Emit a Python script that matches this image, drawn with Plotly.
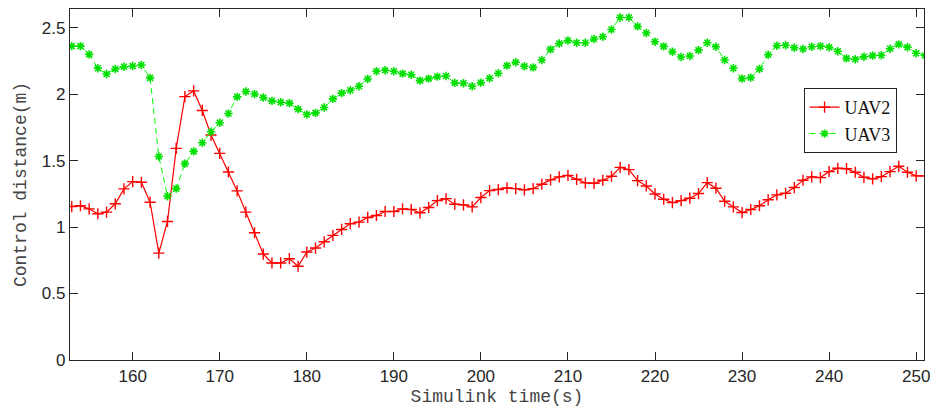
import plotly.graph_objects as go

# Simulation time stamps (s)
time_s = list(range(153, 252))

# Control distance of UAV2 (m)
uav2 = [
    1.154, 1.160, 1.137, 1.100, 1.112, 1.175, 1.287, 1.342, 1.337, 1.187, 0.804, 1.042, 1.592, 1.981, 2.024, 1.877,
    1.692, 1.554, 1.414, 1.272, 1.112, 0.957, 0.797, 0.730, 0.730, 0.762, 0.705, 0.812, 0.842, 0.889, 0.937, 0.982, 1.025,
    1.037, 1.072, 1.087, 1.117, 1.117, 1.137, 1.132, 1.107, 1.147, 1.199, 1.214, 1.172, 1.167, 1.152, 1.222, 1.274,
    1.282, 1.294, 1.289, 1.280, 1.289, 1.322, 1.355, 1.377, 1.389, 1.359, 1.332, 1.329, 1.352, 1.382, 1.449, 1.432, 1.349,
    1.309, 1.249, 1.209, 1.184, 1.199, 1.217, 1.252, 1.334, 1.292, 1.194, 1.152, 1.109, 1.132, 1.160, 1.205, 1.242,
    1.254, 1.297, 1.352, 1.377, 1.372, 1.417, 1.442, 1.439, 1.412, 1.374, 1.362, 1.379, 1.417, 1.457, 1.412, 1.385, 1.385,
]

# Control distance of UAV3 (m)
uav3 = [
    2.361, 2.361, 2.299, 2.194, 2.151, 2.189, 2.206, 2.211, 2.219, 2.122, 1.531, 1.232, 1.289, 1.477, 1.569, 1.634,
    1.717, 1.784, 1.854, 1.979, 2.019, 2.001, 1.974, 1.949, 1.939, 1.932, 1.887, 1.846, 1.859, 1.899, 1.964, 2.007, 2.029,
    2.059, 2.114, 2.172, 2.179, 2.172, 2.154, 2.146, 2.101, 2.116, 2.131, 2.136, 2.084, 2.082, 2.059, 2.086, 2.119,
    2.157, 2.214, 2.239, 2.209, 2.201, 2.256, 2.336, 2.381, 2.403, 2.386, 2.386, 2.414, 2.431, 2.486, 2.576, 2.576, 2.509,
    2.459, 2.394, 2.359, 2.319, 2.279, 2.286, 2.331, 2.386, 2.356, 2.256, 2.194, 2.116, 2.124, 2.189, 2.296, 2.364,
    2.367, 2.349, 2.339, 2.356, 2.361, 2.352, 2.322, 2.269, 2.262, 2.281, 2.289, 2.292, 2.341, 2.374, 2.352, 2.307, 2.290,
]

x_ticks = [160, 170, 180, 190, 200, 210, 220, 230, 240, 250]
y_ticks = [0, 0.5, 1, 1.5, 2, 2.5]
y_tick_text = ["0", "0.5", "1", "1.5", "2", "2.5"]

AXIS_COLOR = "#262626"
TICK_FONT = dict(family="Liberation Sans, Arial, sans-serif", size=17, color=AXIS_COLOR)
TITLE_FONT = dict(family="Liberation Mono, Courier New, monospace", size=18, color="#444444")
LEGEND_FONT = dict(family="Liberation Serif, Times New Roman, serif", size=18, color="#111111")

fig = go.Figure()

fig.add_trace(go.Scatter(
    x=time_s, y=uav2, name="UAV2", mode="lines+markers",
    line=dict(color="#ff0000", width=1.2),
    marker=dict(symbol="cross-thin-open", size=8, color="#ff0000",
                line=dict(color="#ff0000", width=1.4)),
))

fig.add_trace(go.Scatter(
    x=time_s, y=uav3, name="UAV3", mode="lines+markers",
    line=dict(color="#00ff00", width=1.0, dash="6px,4px"),
    marker=dict(symbol="asterisk-open", size=7, color="#00e000",
                line=dict(color="#00e000", width=1.6)),
))

fig.update_xaxes(
    range=[152.8, 250.9], tickvals=x_ticks, ticks="inside", ticklen=8, tickwidth=1,
    tickcolor=AXIS_COLOR, showline=True, linecolor=AXIS_COLOR, linewidth=1.2,
    mirror="ticks", showgrid=False, zeroline=False, tickfont=TICK_FONT,
    title=dict(text="Simulink time(s)", font=TITLE_FONT, standoff=4),
)
fig.update_yaxes(
    range=[0, 2.64], tickvals=y_ticks, ticktext=y_tick_text, ticks="inside", ticklen=8,
    tickwidth=1, tickcolor=AXIS_COLOR, showline=True, linecolor=AXIS_COLOR, linewidth=1.2,
    mirror="ticks", showgrid=False, zeroline=False, tickfont=TICK_FONT,
    title=dict(text="Control distance(m)", font=TITLE_FONT, standoff=10),
)

fig.update_layout(
    width=938, height=411,
    margin=dict(l=70, r=11, t=8, b=51),
    paper_bgcolor="white", plot_bgcolor="white",
    legend=dict(
        x=0.859, y=0.775, xanchor="left", yanchor="top",
        bgcolor="white", bordercolor="#222222", borderwidth=1,
        font=LEGEND_FONT, tracegroupgap=0, itemwidth=30,
    ),
)

fig.write_html("out.html")
